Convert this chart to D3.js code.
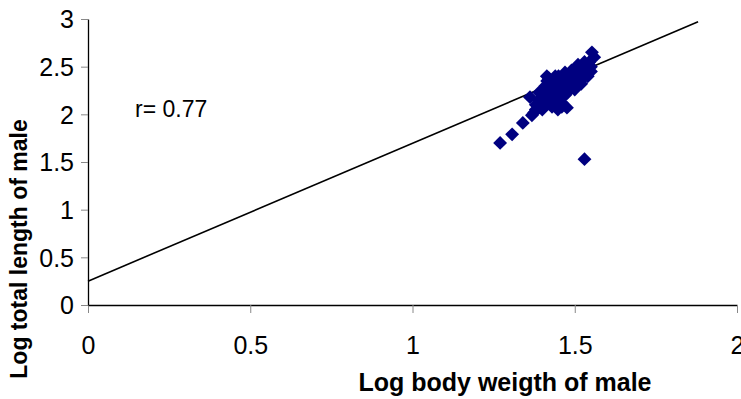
<!DOCTYPE html>
<html>
<head>
<meta charset="utf-8">
<script src="https://cdn.jsdelivr.net/npm/d3@7/dist/d3.min.js"></script>
<style>
  html, body { margin: 0; padding: 0; background: #fff; }
  svg { display: block; font-family: "Liberation Sans", Arial, sans-serif; }
</style>
</head>
<body>
<svg id="chart" width="741" height="399"></svg>
<script>
  // log body weight (x) and log total length (y) of males
  var weightLog = [1.27, 1.307, 1.34, 1.368, 1.375, 1.38, 1.362, 1.39, 1.414, 1.44,
                   1.553, 1.56, 1.448, 1.476, 1.43, 1.53,
                   1.39, 1.40, 1.41, 1.42, 1.42, 1.43, 1.43, 1.44, 1.44, 1.45,
                   1.45, 1.46, 1.46, 1.47, 1.47, 1.48, 1.48, 1.49, 1.49, 1.50,
                   1.50, 1.51, 1.51, 1.52, 1.52, 1.53, 1.53, 1.54, 1.54, 1.55,
                   1.545, 1.46, 1.45, 1.40, 1.415, 1.43, 1.47, 1.50, 1.52, 1.55,
                   1.495, 1.40, 1.46, 1.49,
                   1.41, 1.42, 1.45, 1.47, 1.49, 1.51, 1.53, 1.48, 1.50, 1.52,
                   1.54, 1.44, 1.46, 1.42, 1.39, 1.38];
  var lengthLog = [1.70, 1.79, 1.91, 1.99, 2.02, 2.05, 2.18, 2.23, 2.40, 2.40,
                   2.65, 2.60, 2.05, 2.07, 2.08, 1.53,
                   2.10, 2.15, 2.12, 2.20, 2.28, 2.16, 2.25, 2.18, 2.30, 2.22,
                   2.33, 2.25, 2.35, 2.28, 2.38, 2.32, 2.40, 2.35, 2.42, 2.38,
                   2.45, 2.40, 2.47, 2.42, 2.48, 2.45, 2.50, 2.47, 2.52, 2.50,
                   2.55, 2.12, 2.15, 2.05, 2.35, 2.33, 2.20, 2.30, 2.36, 2.45,
                   2.42, 2.25, 2.18, 2.28,
                   2.30, 2.38, 2.40, 2.44, 2.46, 2.52, 2.55, 2.24, 2.26, 2.32,
                   2.40, 2.10, 2.08, 2.12, 2.15, 2.10];

  // linear trend line end points
  var trendX = [0, 1.88];
  var trendY = [0.25, 2.97];

  var xTicks = [0, 0.5, 1, 1.5, 2];
  var yTicks = [0, 0.5, 1, 1.5, 2, 2.5, 3];
  var rLabel = "r= 0.77";

  var svg = d3.select("#chart");

  var x = d3.scaleLinear().domain([0, 2]).range([88, 737]);
  var y = d3.scaleLinear().domain([0, 3]).range([305, 19]);

  // axes
  var xAxis = svg.append("g")
      .attr("transform", "translate(0,305)")
      .call(d3.axisBottom(x).tickValues(xTicks).tickSizeInner(8).tickSizeOuter(0)
              .tickFormat(d3.format("")));
  var yAxis = svg.append("g")
      .attr("transform", "translate(88,0)")
      .call(d3.axisLeft(y).tickValues(yTicks).tickSizeInner(7).tickSizeOuter(0)
              .tickFormat(d3.format("")));

  xAxis.select(".domain").attr("stroke", "#000").attr("stroke-width", 1.3);
  yAxis.select(".domain").attr("stroke", "#000").attr("stroke-width", 1.3);
  xAxis.selectAll(".tick line").attr("stroke", "#888");
  yAxis.selectAll(".tick line").attr("stroke", "#888");

  xAxis.selectAll(".tick text")
      .attr("font-size", 25)
      .attr("font-family", "Liberation Sans, Arial, sans-serif")
      .attr("fill", "#000")
      .attr("dy", 0)
      .attr("y", 49);
  yAxis.selectAll(".tick text")
      .attr("font-size", 25)
      .attr("font-family", "Liberation Sans, Arial, sans-serif")
      .attr("fill", "#000")
      .attr("x", -14)
      .attr("dy", "0.35em");

  // trend line
  svg.append("line")
      .attr("x1", x(trendX[0])).attr("y1", y(trendY[0]))
      .attr("x2", x(trendX[1])).attr("y2", y(trendY[1]))
      .attr("stroke", "#000")
      .attr("stroke-width", 1.6);

  // points
  var diamond = d3.symbol().type(d3.symbolSquare).size(96);
  svg.append("g").selectAll("path")
      .data(weightLog.map(function (w, i) { return [w, lengthLog[i]]; }))
      .join("path")
      .attr("d", diamond)
      .attr("transform", function (d) {
        return "translate(" + x(d[0]) + "," + y(d[1]) + ") rotate(45)";
      })
      .attr("fill", "#000080");

  // labels
  svg.append("text")
      .attr("x", 135).attr("y", 117)
      .attr("font-size", 23)
      .attr("fill", "#000")
      .text(rLabel);

  svg.append("text")
      .attr("x", 505).attr("y", 391)
      .attr("text-anchor", "middle")
      .attr("font-size", 25)
      .attr("font-weight", "bold")
      .attr("fill", "#000")
      .text("Log body weigth of male");

  svg.append("text")
      .attr("transform", "translate(27,249) rotate(-90)")
      .attr("text-anchor", "middle")
      .attr("font-size", 23)
      .attr("font-weight", "bold")
      .attr("fill", "#000")
      .text("Log total length of male");
</script>
</body>
</html>
